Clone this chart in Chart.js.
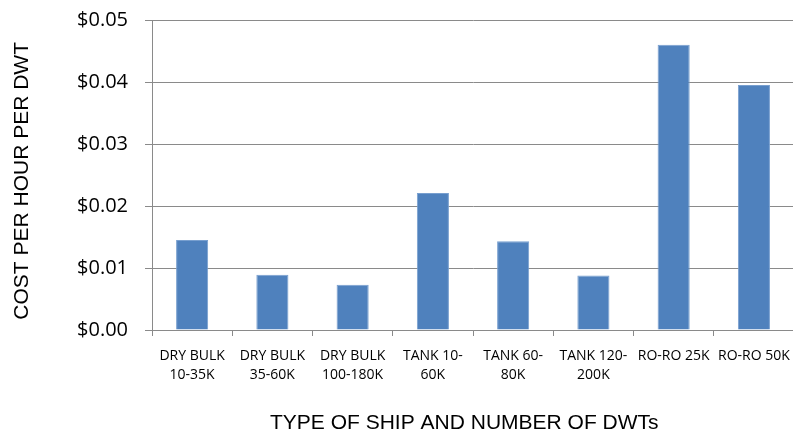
<!DOCTYPE html>
<html>
<head>
<meta charset="utf-8">
<script src="https://cdn.jsdelivr.net/npm/chart.js@4"></script>
<style>
  html, body { margin: 0; padding: 0; background: #fff; overflow: hidden; }
</style>
</head>
<body>
<canvas id="bars" width="800" height="436"></canvas>
<script>
const categories = [
  ['DRY BULK', '10-35K'],
  ['DRY BULK', '35-60K'],
  ['DRY BULK', '100-180K'],
  ['TANK 10-', '60K'],
  ['TANK 60-', '80K'],
  ['TANK 120-', '200K'],
  'RO-RO 25K',
  'RO-RO 50K'
];
const costPerDwt = [0.0145, 0.0089, 0.0073, 0.0221, 0.0143, 0.0088, 0.0460, 0.0395];
const yTicks = [0, 0.01, 0.02, 0.03, 0.04, 0.05];

const gridGray = '#8a8a8a';

const ctx = document.getElementById('bars').getContext('2d');
const chart = new Chart(ctx, {
  type: 'bar',
  data: {
    labels: categories,
    datasets: [{
      label: 'Cost per hour per DWT',
      data: costPerDwt,
      backgroundColor: '#4F81BD',
      borderColor: '#789fcf',
      borderWidth: 1,
      barPercentage: 0.4,
      categoryPercentage: 1.0
    }]
  },
  options: {
    responsive: false,
    animation: false,
    layout: { padding: { top: 20, right: 3, left: 0, bottom: 0 } },
    plugins: {
      legend: { display: false },
      tooltip: { enabled: false }
    },
    scales: {
      x: {
        afterFit: (scale) => { scale.height = 106; },
        border: { color: gridGray, width: 1 },
        grid: {
          offset: true,
          drawOnChartArea: false,
          drawTicks: true,
          tickLength: 6,
          color: gridGray
        },
        ticks: {
          color: '#000',
          padding: 10,
          maxRotation: 0,
          autoSkip: false,
          font: { family: '"Open Sans"', size: 14, lineHeight: 1.4 }
        },
        title: {
          display: true,
          text: 'TYPE OF SHIP AND NUMBER OF DWTs   ',
          color: '#000',
          padding: { top: 0, bottom: 0 },
          font: { family: '"Liberation Sans"', size: 21 }
        }
      },
      y: {
        min: 0,
        max: 0.05,
        afterFit: (scale) => {
          scale.width = 152;
          scale.paddingTop = 0;
          scale.paddingBottom = 0;
        },
        afterBuildTicks: (scale) => { scale.ticks = yTicks.map(v => ({ value: v })); },
        border: { color: gridGray, width: 1 },
        grid: {
          color: gridGray,
          tickLength: 7
        },
        ticks: {
          color: '#000',
          padding: 17,
          font: { family: '"Open Sans"', size: 20 },
          callback: (v) => '$' + Number(v).toFixed(2)
        },
        title: {
          display: true,
          text: 'COST PER HOUR PER DWT  ',
          color: '#000',
          padding: { top: 10, bottom: 0 },
          font: { family: '"Liberation Sans"', size: 21 }
        }
      }
    }
  }
});
</script>
</body>
</html>
